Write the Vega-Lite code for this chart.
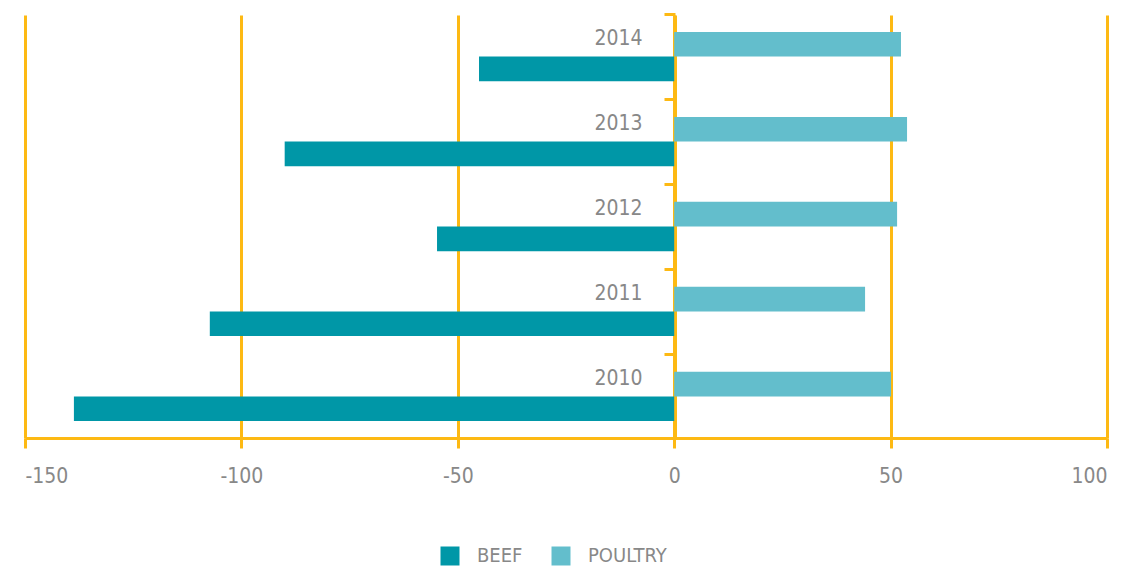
{
  "$schema": "https://vega.github.io/schema/vega-lite/v6.json",
  "autosize": "none",
  "width": 1082,
  "height": 423,
  "padding": {"left": 25, "top": 15, "right": 16, "bottom": 128},
  "config": {
    "view": {"stroke": null},
    "font": "DejaVu Sans Condensed",
    "axis": {"labelFont": "DejaVu Sans Condensed", "labelColor": "#888888", "labelFontWeight": 300},
    "legend": {"labelFont": "DejaVu Sans Condensed", "labelFontWeight": 300}
  },
  "data": {
    "values": [
      {"year": "2014", "type": "BEEF", "value": -45.1},
      {"year": "2014", "type": "POULTRY", "value": 52.4},
      {"year": "2013", "type": "BEEF", "value": -90.0},
      {"year": "2013", "type": "POULTRY", "value": 53.8},
      {"year": "2012", "type": "BEEF", "value": -54.8},
      {"year": "2012", "type": "POULTRY", "value": 51.5},
      {"year": "2011", "type": "BEEF", "value": -107.3},
      {"year": "2011", "type": "POULTRY", "value": 44.1},
      {"year": "2010", "type": "BEEF", "value": -138.7},
      {"year": "2010", "type": "POULTRY", "value": 50.1}
    ]
  },
  "mark": {"type": "bar"},
  "encoding": {
    "y": {
      "field": "year",
      "type": "nominal",
      "sort": "descending",
      "scale": {"paddingInner": 0.42, "paddingOuter": 0.2},
      "axis": {
        "title": null,
        "offset": -650,
        "tickOffset": -42.3,
        "domainColor": "#FDB913",
        "domainWidth": 3,
        "tickColor": "#FDB913",
        "tickWidth": 3,
        "tickSize": 11,
        "labelFontSize": 21,
        "labelPadding": 22,
        "labelOffset": 24,
        "labelAlign": "right",
        "labelBaseline": "middle"
      }
    },
    "yOffset": {"field": "type", "type": "nominal", "sort": ["POULTRY", "BEEF"]},
    "x": {
      "field": "value",
      "type": "quantitative",
      "scale": {"domain": [-150, 100], "nice": false},
      "axis": {
        "title": null,
        "values": [-150, -100, -50, 0, 50, 100],
        "labelExpr": "'' + datum.value",
        "grid": true,
        "gridColor": "#FDB913",
        "gridWidth": 3,
        "gridOpacity": 1,
        "domainColor": "#FDB913",
        "domainWidth": 3,
        "tickColor": "#FDB913",
        "tickWidth": 3,
        "tickSize": 10,
        "labelFontSize": 21,
        "labelPadding": 17,
        "labelBaseline": "top"
      }
    },
    "color": {
      "field": "type",
      "type": "nominal",
      "sort": ["BEEF", "POULTRY"],
      "scale": {"domain": ["BEEF", "POULTRY"], "range": ["#0097A7", "#63BECC"]},
      "legend": {
        "title": null,
        "orient": "none",
        "direction": "horizontal",
        "legendX": 415,
        "legendY": 531,
        "padding": 0,
        "symbolType": "square",
        "symbolSize": 361,
        "symbolStrokeWidth": 0,
        "symbolOpacity": 1,
        "labelFontSize": 20,
        "labelColor": "#888888",
        "labelOffset": 17,
        "columnPadding": 28
      }
    }
  }
}
